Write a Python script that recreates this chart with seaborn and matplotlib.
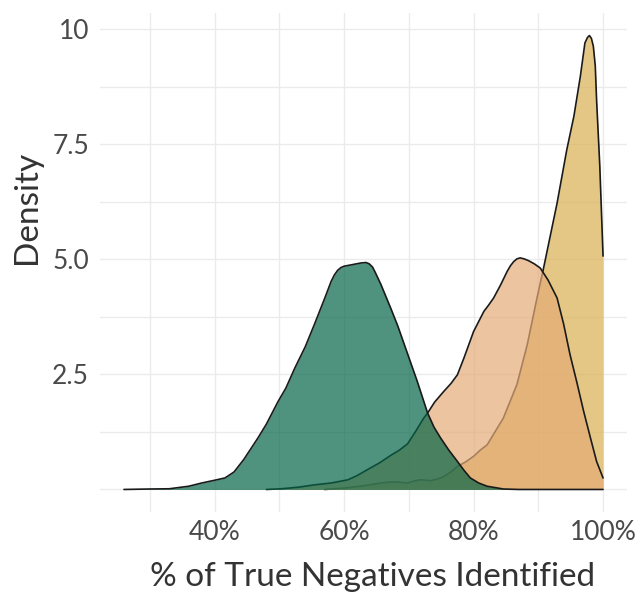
import matplotlib
matplotlib.use("Agg")
import matplotlib.pyplot as plt
import seaborn as sns
import pandas as pd

# density curves (x in %, density)
green_x = [26.0, 30.0, 33.0, 36.0, 38.0, 40.0, 41.6, 43.0, 44.5, 46.7, 48.0, 49.8, 51.0, 52.4,
           54.0, 55.4, 57.0, 58.0, 58.5, 59.0, 59.5, 60.0, 61.5, 62.6, 63.4, 63.9, 64.4, 64.8,
           65.7, 67.2, 68.3, 69.3, 70.3, 71.3, 72.9, 73.9, 74.9, 76.2, 77.5, 78.5, 79.5, 80.8,
           82.1, 84.6, 87.0, 100.0]
green_y = [0.0, 0.01, 0.015, 0.07, 0.14, 0.2, 0.25, 0.38, 0.65, 1.12, 1.42, 1.91, 2.2, 2.64,
           3.1, 3.58, 4.15, 4.52, 4.66, 4.76, 4.82, 4.85, 4.89, 4.92, 4.93, 4.9, 4.83, 4.72,
           4.45, 3.94, 3.55, 3.15, 2.75, 2.35, 1.66, 1.35, 1.12, 0.85, 0.61, 0.42, 0.25, 0.14,
           0.07, 0.01, 0.0, 0.0]

peach_x = [48.0, 50.3, 53.0, 55.4, 58.0, 60.6, 62.0, 63.6, 65.5, 67.2, 68.5, 69.8, 71.0, 72.3,
           72.9, 74.0, 75.4, 76.5, 77.5, 78.5, 80.0, 81.6, 82.3, 83.1, 84.2, 85.2, 85.7, 86.2,
           86.7, 87.2, 87.8, 88.5, 89.4, 90.3, 91.5, 92.9, 93.9, 94.9, 96.0, 97.0, 98.0, 99.0,
           100.0]
peach_y = [0.0, 0.015, 0.05, 0.1, 0.14, 0.21, 0.3, 0.43, 0.58, 0.74, 0.85, 0.99, 1.25, 1.55,
           1.66, 1.9, 2.13, 2.3, 2.49, 2.85, 3.43, 3.87, 4.0, 4.16, 4.45, 4.74, 4.86, 4.95,
           5.01, 5.03, 5.01, 4.97, 4.9, 4.81, 4.55, 4.16, 3.6, 2.93, 2.3, 1.7, 1.15, 0.61, 0.25]

gold_x = [57.0, 60.0, 63.0, 65.7, 67.0, 68.3, 69.8, 71.0, 71.8, 72.6, 73.4, 74.5, 75.4, 76.5,
          77.5, 78.8, 80.0, 81.0, 82.1, 84.6, 86.7, 88.3, 89.8, 90.8, 92.9, 94.4, 95.5, 96.5,
          97.2, 97.6, 97.9, 98.2, 98.5, 98.8, 99.0, 99.5, 100.0]
gold_y = [0.0, 0.03, 0.08, 0.14, 0.16, 0.16, 0.14, 0.19, 0.21, 0.2, 0.19, 0.23, 0.28, 0.38,
          0.5, 0.6, 0.72, 0.85, 0.97, 1.55, 2.28, 3.15, 4.16, 4.8, 6.22, 7.38, 8.11, 8.98,
          9.7, 9.82, 9.86, 9.8, 9.63, 9.2, 8.47, 7.02, 5.07]

x_ticks = [40, 60, 80, 100]
x_labels = ["40%", "60%", "80%", "100%"]
y_ticks = [2.5, 5.0, 7.5, 10.0]
y_labels = ["2.5", "5.0", "7.5", "10"]

groups = [("gold", gold_x, gold_y, "#D9B050"),
          ("peach", peach_x, peach_y, "#E4AB77"),
          ("green", green_x, green_y, "#046446")]

df = pd.concat([pd.DataFrame({"group": g, "x": xs, "density": ys}) for g, xs, ys, _ in groups])

sns.set_theme(style="white")
plt.rcParams['font.family'] = ['Lato', 'DejaVu Sans']

fig, ax = plt.subplots(figsize=(6.44, 5.92), dpi=100)
fig.subplots_adjust(left=0.1553, right=0.9736, bottom=0.1351, top=0.978)

# later groups on top, each fill followed by its outline
for i, (g, _, _, color) in enumerate(groups):
    sub = df[df["group"] == g]
    ax.fill_between(sub["x"], sub["density"], color=color, alpha=0.7, linewidth=0, zorder=2 + 2 * i)
    sns.lineplot(data=sub, x="x", y="density", color="#1a1a1a", linewidth=1.2,
                 estimator=None, sort=False, ax=ax, zorder=3 + 2 * i)

ax.set_xlim(22.3, 103.7)
ax.set_ylim(-0.49, 10.35)
ax.set_xticks(x_ticks)
ax.set_xticklabels(x_labels)
ax.set_xticks([30, 50, 70, 90], minor=True)
ax.set_yticks(y_ticks)
ax.set_yticklabels(y_labels)
ax.set_yticks([0, 1.25, 3.75, 6.25, 8.75], minor=True)

ax.grid(which="both", color="#EBEBEB", linewidth=1.0)
ax.set_axisbelow(True)
for s in ax.spines.values():
    s.set_visible(False)
ax.tick_params(axis="both", which="both", length=0, labelsize=19, labelcolor="#4A4A4A")
ax.tick_params(axis="x", pad=6)
ax.tick_params(axis="y", pad=8)

ax.set_xlabel("% of True Negatives Identified", fontsize=24, color="#333333")
ax.set_ylabel("Density", fontsize=24, color="#333333")
ax.xaxis.set_label_coords(0.518, -0.1)
ax.yaxis.set_label_coords(-0.11, 0.61)

plt.savefig("out.png", dpi=100)
